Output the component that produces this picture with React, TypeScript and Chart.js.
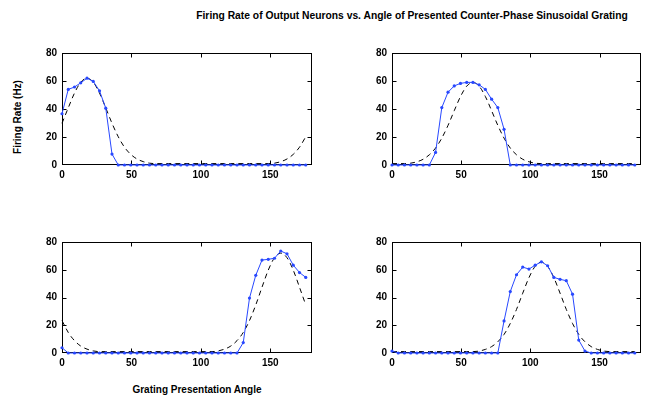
import React, { useEffect, useRef } from "react";
import { Chart, registerables } from "chart.js";

Chart.register(...registerables);

// ---- data ----
const ANGLES = [
  0, 4.5, 9, 13.5, 18, 22.5, 27, 31.5, 36, 40.5, 45, 49.5, 54, 58.5, 63, 67.5, 72, 76.5, 81, 85.5,
  90, 94.5, 99, 103.5, 108, 112.5, 117, 121.5, 126, 130.5, 135, 139.5, 144, 148.5, 153, 157.5, 162, 166.5, 171, 175.5,
];
const X_TICKS = [0, 50, 100, 150];
const Y_TICKS = [0, 20, 40, 60, 80];

const RATE_TL = [
  36.6, 54, 55.7, 58.7, 62, 59.7, 53, 40.6, 7.8, 0, 0, 0, 0, 0, 0, 0, 0, 0, 0, 0,
  0, 0, 0, 0, 0, 0, 0, 0, 0, 0, 0, 0, 0, 0, 0, 0, 0, 0, 0, 0,
];
const FIT_TL = [
  29.8, 40.8, 51.4, 59.1, 62, 59.1, 51.4, 40.8, 29.8, 20.2, 12.7, 7.6, 4.3, 2.4, 1.3, 1, 1, 1, 1, 1,
  1, 1, 1, 1, 1, 1, 1, 1, 1, 1, 1, 1, 1, 1, 1.3, 2.4, 4.3, 7.6, 12.7, 20.2,
];

const RATE_TR = [
  0, 0, 0, 0, 0, 0, 0, 9, 41, 52, 56.5, 58.3, 59, 59, 57.3, 54, 47, 41, 25.5, 0,
  0, 0, 0, 0, 0, 0, 0, 0, 0, 0, 0, 0, 0, 0, 0, 0, 0, 0, 0, 0,
];
const FIT_TR = [
  1, 1, 1, 1.3, 2.3, 4.1, 7.3, 12.1, 19.2, 28.3, 38.8, 48.9, 56.3, 59, 56.3, 48.9, 38.8, 28.3, 19.2, 12.1,
  7.3, 4.1, 2.3, 1.3, 1, 1, 1, 1, 1, 1, 1, 1, 1, 1, 1, 1, 1, 1, 1, 1,
];

const RATE_BL = [
  3.8, 0, 0, 0, 0, 0, 0, 0, 0, 0, 0, 0, 0, 0, 0, 0, 0, 0, 0, 0,
  0, 0, 0, 0, 0, 0, 0, 0, 0, 7.5, 39.6, 56, 67, 67.5, 68.3, 73.5, 71.5, 63.3, 58, 54.5,
];
const FIT_BL = [
  23.4, 14.8, 8.9, 5.0, 2.8, 1.5, 1, 1, 1, 1, 1, 1, 1, 1, 1, 1, 1, 1, 1, 1,
  1, 1, 1, 1, 1, 1.5, 2.8, 5.0, 8.9, 14.8, 23.4, 34.6, 47.4, 59.7, 68.7, 72, 68.7, 59.7, 47.4, 34.6,
];

const RATE_BR = [
  1.4, 0, 0, 0, 0, 0, 0, 0, 0, 0, 0, 0, 0, 0, 0, 0, 0, 0, 23.1, 44.3,
  56.4, 61.9, 60.5, 63.3, 65.7, 62.9, 54.5, 53.1, 52.1, 42.4, 9.3, 1.4, 0, 0, 0, 0, 0, 0, 0, 0,
];
const FIT_BR = [
  1, 1, 1, 1, 1, 1, 1, 1, 1, 1, 1, 1, 1, 1, 1.4, 2.6, 4.6, 8.1, 13.4, 21.3,
  31.4, 43.1, 54.3, 62.5, 65.5, 62.5, 54.3, 43.1, 31.4, 21.3, 13.4, 8.1, 4.6, 2.6, 1.4, 1, 1, 1, 1, 1,
];

const TITLE = "Firing Rate of Output Neurons vs. Angle of Presented Counter-Phase Sinusoidal Grating";
const Y_LABEL = "Firing Rate (Hz)";
const X_LABEL = "Grating Presentation Angle";

// ---- style / layout ----
const BLUE = "#2848ff";
const FONT = "'Liberation Sans', Arial, Helvetica, sans-serif";
const Y_AXIS_W = 30;
const X_AXIS_H = 24;
const PAD_T = 10;
const PAD_R = 3;

const boxPlugin = {
  id: "matlabBox",
  beforeDatasetsDraw(chart: any) {
    const { ctx, chartArea: a, scales } = chart;
    const l = Math.round(a.left) + 0.5;
    const t = Math.round(a.top) + 0.5;
    const r = Math.round(a.right) - 0.5;
    const b = Math.round(a.bottom) - 0.5;
    ctx.save();
    ctx.strokeStyle = "#000";
    ctx.lineWidth = 1;
    ctx.strokeRect(l, t, r - l, b - t);
    const len = 4;
    ctx.beginPath();
    for (const v of X_TICKS) {
      const px = Math.round(scales.x.getPixelForValue(v)) + 0.5;
      if (px <= l + 1 || px >= r - 1) continue;
      ctx.moveTo(px, b);
      ctx.lineTo(px, b - len);
      ctx.moveTo(px, t);
      ctx.lineTo(px, t + len);
    }
    for (const v of Y_TICKS) {
      const py = Math.round(scales.y.getPixelForValue(v)) + 0.5;
      if (py <= t + 1 || py >= b - 1) continue;
      ctx.moveTo(l, py);
      ctx.lineTo(l + len, py);
      ctx.moveTo(r, py);
      ctx.lineTo(r - len, py);
    }
    ctx.stroke();
    ctx.restore();
  },
};

type PanelProps = {
  box: [number, number, number, number]; // left, top, right, bottom of plot area
  rates: number[];
  fit: number[];
};

function Panel({ box, rates, fit }: PanelProps) {
  const ref = useRef<HTMLCanvasElement>(null);
  const [bl, bt, br, bb] = box;
  const left = bl - Y_AXIS_W;
  const top = bt - PAD_T;
  const width = br - bl + Y_AXIS_W + PAD_R;
  const height = bb - bt + PAD_T + X_AXIS_H;

  useEffect(() => {
    const tickFont = { family: FONT, size: 10, weight: "bold" as const };
    const chart = new Chart(ref.current as HTMLCanvasElement, {
      type: "line",
      data: {
        datasets: [
          {
            data: ANGLES.map((x, i) => ({ x, y: rates[i] })),
            borderColor: BLUE,
            backgroundColor: BLUE,
            borderWidth: 1,
            pointRadius: 1.6,
            pointBorderWidth: 0,
            pointBackgroundColor: BLUE,
            tension: 0,
            clip: false as any,
          },
          {
            data: ANGLES.map((x, i) => ({ x, y: fit[i] })),
            borderColor: "#000",
            borderWidth: 1,
            borderDash: [5, 4],
            pointRadius: 0,
            cubicInterpolationMode: "monotone",
            clip: false as any,
          },
        ],
      },
      options: {
        animation: false,
        responsive: false,
        events: [],
        layout: { padding: { top: PAD_T, right: PAD_R, left: 0, bottom: 0 } },
        plugins: { legend: { display: false }, tooltip: { enabled: false } },
        scales: {
          x: {
            type: "linear",
            min: 0,
            max: 180,
            border: { display: false },
            grid: { display: false, drawTicks: false },
            afterBuildTicks: (s: any) => {
              s.ticks = X_TICKS.map((v) => ({ value: v }));
            },
            afterFit: (s: any) => {
              s.height = X_AXIS_H;
            },
            ticks: { padding: 4, color: "#000", font: tickFont, maxRotation: 0, autoSkip: false },
          },
          y: {
            type: "linear",
            min: 0,
            max: 80,
            border: { display: false },
            grid: { display: false, drawTicks: false },
            afterBuildTicks: (s: any) => {
              s.ticks = Y_TICKS.map((v) => ({ value: v }));
            },
            afterFit: (s: any) => {
              s.width = Y_AXIS_W;
            },
            ticks: { padding: 5, color: "#000", font: tickFont, autoSkip: false },
          },
        },
      } as any,
      plugins: [boxPlugin],
    });
    return () => chart.destroy();
  }, []);

  return (
    <canvas
      ref={ref}
      width={width}
      height={height}
      style={{ position: "absolute", left, top, width, height }}
    />
  );
}

export default function App() {
  const textStyle: React.CSSProperties = {
    position: "absolute",
    fontFamily: FONT,
    fontWeight: "bold",
    fontSize: 10,
    color: "#000",
    whiteSpace: "nowrap",
    lineHeight: "12px",
  };
  return (
    <div
      style={{
        position: "absolute",
        left: 0,
        top: 0,
        width: 645,
        height: 400,
        background: "#fff",
        overflow: "hidden",
      }}
    >
      <div style={{ ...textStyle, fontSize: 10.3, left: 412, top: 10, transform: "translateX(-50%)" }}>
        {TITLE}
      </div>
      <div
        style={{
          ...textStyle,
          left: 18,
          top: 117,
          transform: "translate(-50%, -50%) rotate(-90deg)",
        }}
      >
        {Y_LABEL}
      </div>
      <div style={{ ...textStyle, left: 197, top: 384, transform: "translateX(-50%)" }}>{X_LABEL}</div>
      <Panel box={[62, 52, 313, 165]} rates={RATE_TL} fit={FIT_TL} />
      <Panel box={[392, 52, 642, 165]} rates={RATE_TR} fit={FIT_TR} />
      <Panel box={[62, 241, 313, 353]} rates={RATE_BL} fit={FIT_BL} />
      <Panel box={[392, 241, 642, 353]} rates={RATE_BR} fit={FIT_BR} />
    </div>
  );
}
